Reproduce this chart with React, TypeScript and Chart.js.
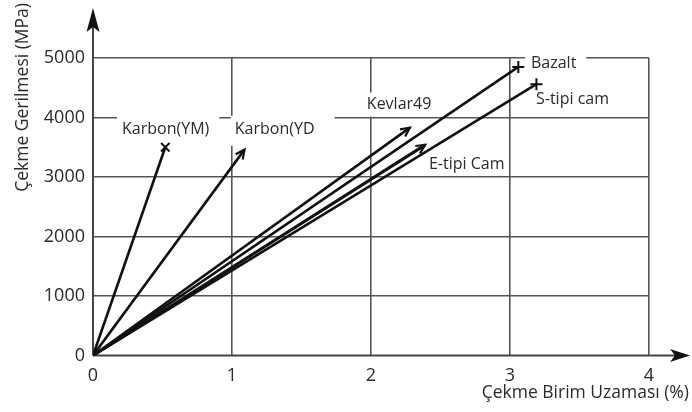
import React, { useEffect, useRef } from "react";
import { Chart, registerables } from "chart.js";

Chart.register(...registerables);

// ---- data ----
const seriesNames = ["Karbon(YM)", "Karbon(YD", "Kevlar49", "Bazalt", "S-tipi cam", "E-tipi Cam"];
const strainEnd = [0.52, 1.09, 2.28, 3.06, 3.19, 2.39];
const stressEnd = [3500, 3460, 3830, 4850, 4560, 3540];
const endMarkers = ["crossRot", "arrow", "arrow", "cross", "cross", "arrow"];
const xTickValues = [0, 1, 2, 3, 4];
const yTickValues = [0, 1000, 2000, 3000, 4000, 5000];
const xTitle = "Çekme Birim Uzaması (%)";
const yTitle = "Çekme Gerilmesi (MPa)";
// label anchors (data units: left edge / vertical centre of the text)
const labelX = [0.209, 1.02, 1.97, 3.151, 3.187, 2.417];
const labelY = [3796, 3796, 4217, 4907, 4301, 3207];

const FONT = "'Open Sans', 'DejaVu Sans', sans-serif";
const INK = "#111";
const GRID = "#555";
const TEXT = "#2a2a2a";

// label white boxes [padLeft, padRight, padTop, padBottom] or null
const labelBoxes: (number[] | null)[] = [
  [5, 10, 14, 14],
  [4, 20, 14, 16],
  [6, 4, 12, 12],
  [6, 10, 12, 12],
  null,
  null,
];

const decorPlugin = {
  id: "decor",
  beforeDatasetsDraw(chart: any) {
    const ctx = chart.ctx;
    const xs = chart.scales.x;
    const ys = chart.scales.y;
    const x0 = xs.getPixelForValue(0);
    const y0 = ys.getPixelForValue(0);
    ctx.save();
    // label boxes and text
    ctx.font = `16px ${FONT}`;
    ctx.textBaseline = "middle";
    ctx.textAlign = "left";
    seriesNames.forEach((name, i) => {
      const px = xs.getPixelForValue(labelX[i]);
      const py = ys.getPixelForValue(labelY[i]);
      const w = ctx.measureText(name).width;
      const b = labelBoxes[i];
      if (b) {
        ctx.fillStyle = "#fff";
        ctx.fillRect(px - b[0], py - b[2], w + b[0] + b[1], b[2] + b[3]);
      }
    });
    seriesNames.forEach((name, i) => {
      const px = xs.getPixelForValue(labelX[i]);
      const py = ys.getPixelForValue(labelY[i]);
      ctx.fillStyle = TEXT;
      ctx.fillText(name, px, py);
    });
    // axes
    ctx.strokeStyle = "#444";
    ctx.lineWidth = 2;
    ctx.beginPath();
    ctx.moveTo(x0, y0);
    ctx.lineTo(chart.width - 12, y0);
    ctx.moveTo(x0, y0);
    ctx.lineTo(x0, 22);
    ctx.stroke();
    ctx.fillStyle = "#111";
    // y arrow
    ctx.beginPath();
    ctx.moveTo(x0, 8);
    ctx.lineTo(x0 + 6.5, 32);
    ctx.lineTo(x0, 27);
    ctx.lineTo(x0 - 6.5, 32);
    ctx.closePath();
    ctx.fill();
    // x arrow
    const tip = chart.width - 2;
    ctx.beginPath();
    ctx.moveTo(tip, y0);
    ctx.lineTo(tip - 20, y0 - 6.5);
    ctx.lineTo(tip - 15, y0);
    ctx.lineTo(tip - 20, y0 + 6.5);
    ctx.closePath();
    ctx.fill();
    // axis titles
    ctx.fillStyle = TEXT;
    ctx.font = `17.5px ${FONT}`;
    ctx.textAlign = "right";
    ctx.textBaseline = "middle";
    ctx.fillText(xTitle, chart.width - 3, 393);
    ctx.save();
    ctx.translate(23, 3);
    ctx.rotate(-Math.PI / 2);
    ctx.textAlign = "right";
    ctx.fillText(yTitle, 0, 0);
    ctx.restore();
    ctx.restore();
  },
  afterDatasetsDraw(chart: any) {
    const ctx = chart.ctx;
    ctx.save();
    ctx.strokeStyle = INK;
    ctx.lineWidth = 2.2;
    chart.data.datasets.forEach((ds: any, i: number) => {
      if (endMarkers[i] !== "arrow") return;
      const meta = chart.getDatasetMeta(i);
      const p0 = meta.data[0];
      const p1 = meta.data[1];
      const a = Math.atan2(p1.y - p0.y, p1.x - p0.x);
      const L = 10;
      const s = 0.45;
      ctx.beginPath();
      ctx.moveTo(p1.x - L * Math.cos(a - s), p1.y - L * Math.sin(a - s));
      ctx.lineTo(p1.x, p1.y);
      ctx.lineTo(p1.x - L * Math.cos(a + s), p1.y - L * Math.sin(a + s));
      ctx.stroke();
    });
    ctx.restore();
  },
};

export default function App() {
  const ref = useRef<HTMLCanvasElement | null>(null);
  useEffect(() => {
    document.body.style.margin = "0";
    const canvas = ref.current!;
    const chart = new Chart(canvas, {
      type: "scatter",
      data: {
        datasets: seriesNames.map((name, i) => ({
          label: name,
          data: [
            { x: 0, y: 0 },
            { x: strainEnd[i], y: stressEnd[i] },
          ],
          showLine: true,
          borderColor: INK,
          backgroundColor: INK,
          borderWidth: i === 5 ? 3 : 2.6,
          pointRadius: endMarkers[i] === "arrow" ? [0, 0] : [0, 6],
          pointStyle: endMarkers[i] === "arrow" ? "circle" : (endMarkers[i] as any),
          pointBorderWidth: 2,
          pointBorderColor: INK,
        })),
      },
      plugins: [decorPlugin],
      options: {
        animation: false,
        responsive: false,
        layout: { padding: { top: 58, right: 43, left: 0, bottom: 0 } },
        plugins: { legend: { display: false }, tooltip: { enabled: false } },
        scales: {
          x: {
            type: "linear",
            min: 0,
            max: 4,
            afterFit: (s: any) => {
              s.height = 56.5;
            },
            afterBuildTicks: (s: any) => {
              s.ticks = xTickValues.map((v) => ({ value: v }));
            },
            border: { display: false },
            grid: {
              drawTicks: false,
              color: (c: any) => (c.tick && c.tick.value === 0 ? "rgba(0,0,0,0)" : GRID),
              lineWidth: 1.6,
            },
            ticks: {
              padding: 10,
              color: TEXT,
              font: { family: FONT, size: 18 },
              callback: (v: any) => String(v),
            },
          },
          y: {
            type: "linear",
            min: 0,
            max: 5000,
            afterFit: (s: any) => {
              s.width = 93;
            },
            afterBuildTicks: (s: any) => {
              s.ticks = yTickValues.map((v) => ({ value: v }));
            },
            border: { display: false },
            grid: {
              drawTicks: false,
              color: (c: any) => (c.tick && c.tick.value === 0 ? "rgba(0,0,0,0)" : GRID),
              lineWidth: 1.6,
            },
            ticks: {
              padding: 8,
              color: TEXT,
              font: { family: FONT, size: 18 },
              callback: (v: any) => String(v),
            },
          },
        },
      },
    });
    return () => chart.destroy();
  }, []);
  return <canvas ref={ref} width={692} height={412} style={{ display: "block" }} />;
}
